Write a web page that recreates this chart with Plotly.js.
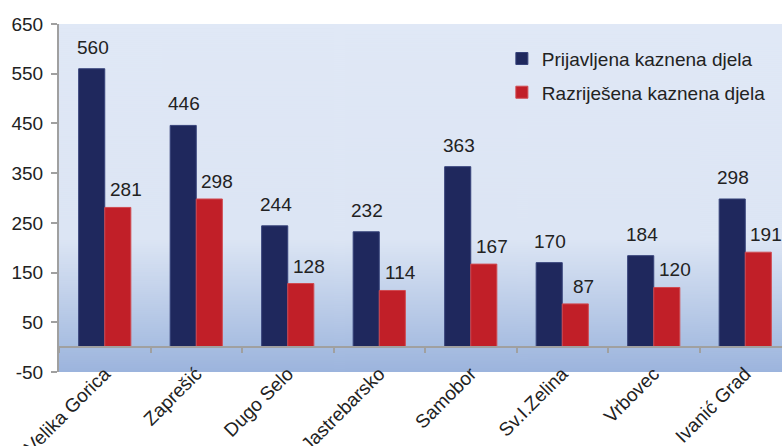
<!DOCTYPE html>
<html>
<head>
<meta charset="utf-8">
<script src="https://cdn.plot.ly/plotly-3.0.1.min.js"></script>
<style>
html,body{margin:0;padding:0;overflow:hidden;background:#fff;width:782px;height:446px;}
#chart{width:791px;height:446px;}
</style>
</head>
<body>
<div id="chart"></div>
<script>
var categories = ["Velika Gorica", "Zaprešić", "Dugo Selo", "Jastrebarsko", "Samobor", "Sv.I.Zelina", "Vrbovec", "Ivanić Grad"];
var seriesNames = ["Prijavljena kaznena djela", "Razriješena kaznena djela"];
var reported = [560, 446, 244, 232, 363, 170, 184, 298];
var solved = [281, 298, 128, 114, 167, 87, 120, 191];
var yTickVals = [-50, 50, 150, 250, 350, 450, 550, 650];
var yTickText = ["-50", "50", "150", "250", "350", "450", "550", "650"];

var navy = "#1f285d";
var red = "#c11f28";
var txt = "#222222";
var fontFam = "Liberation Sans, Arial, sans-serif";
var fs = 19;

// gradient background for plot area
var cv = document.createElement("canvas");
cv.width = 4; cv.height = 348;
var ctx = cv.getContext("2d");
var g = ctx.createLinearGradient(0, 0, 0, 348);
g.addColorStop(0, "#e0e8f6");
g.addColorStop(0.62, "#dce5f4");
g.addColorStop(0.93, "#a7bde1");
g.addColorStop(1, "#9cb4dd");
ctx.fillStyle = g;
ctx.fillRect(0, 0, 4, 348);
var bgURL = cv.toDataURL("image/png");

var traces = [
  {type: "bar", name: seriesNames[0], x: categories, y: reported,
   marker: {color: navy, line: {color: "#36427a", width: 1}},
   legendgroup: "a", hoverinfo: "skip"},
  {type: "bar", name: seriesNames[1], x: categories, y: solved,
   marker: {color: red, line: {color: "#d04a50", width: 1}},
   legendgroup: "b", hoverinfo: "skip"},
  {type: "scatter", mode: "markers", x: categories, y: categories.map(function(){return null;}),
   xaxis: "x2", showlegend: false, hoverinfo: "skip"}
];

var annotations = [];
categories.forEach(function(c, i){
  annotations.push({x: c, y: reported[i], xref: "x", yref: "y", text: String(reported[i]),
    showarrow: false, xshift: -12, yshift: 9, yanchor: "bottom",
    font: {family: fontFam, size: fs, color: txt}});
  annotations.push({x: c, y: solved[i], xref: "x", yref: "y", text: String(solved[i]),
    showarrow: false, xshift: 21, yshift: 5, yanchor: "bottom",
    font: {family: fontFam, size: fs, color: txt}});
});

var layout = {
  width: 791, height: 446,
  margin: {l: 59, r: 0, t: 24, b: 74, pad: 0},
  paper_bgcolor: "#ffffff",
  plot_bgcolor: "rgba(0,0,0,0)",
  font: {family: fontFam, size: fs, color: txt},
  barmode: "group",
  bargap: 0.43,
  bargroupgap: 0,
  showlegend: true,
  legend: {x: 0.605, y: 0.955, xanchor: "left", yanchor: "top",
    bgcolor: "rgba(0,0,0,0)", font: {family: fontFam, size: fs, color: txt},
    traceorder: "grouped", tracegroupgap: 6},
  xaxis: {type: "category", range: [-0.5, 7.5], showline: false, ticks: "",
    showgrid: false, zeroline: false, tickangle: -45, automargin: false,
    ticklabelstandoff: -14, ticklabelshift: 0,
    tickfont: {family: fontFam, size: fs, color: txt}},
  xaxis2: {type: "category", overlaying: "x", anchor: "free", position: 50/700,
    range: [-0.5, 7.5], showline: true, linecolor: "#a0a0a0", linewidth: 2,
    ticks: "outside", ticklen: 5, tickwidth: 2, tickcolor: "#a0a0a0",
    tickson: "boundaries", showticklabels: false, showgrid: false, zeroline: false},
  yaxis: {range: [-50, 650], tickmode: "array", tickvals: yTickVals, ticktext: yTickText,
    showgrid: false, zeroline: false, showline: true, linecolor: "#a0a0a0", linewidth: 2,
    ticks: "outside", ticklen: 6, tickwidth: 2, tickcolor: "#a0a0a0",
    ticklabelstandoff: 4, automargin: false,
    tickfont: {family: fontFam, size: fs, color: txt}},
  images: [{source: bgURL, xref: "paper", yref: "paper", x: 0, y: 1,
    sizex: 1, sizey: 1, xanchor: "left", yanchor: "top", sizing: "stretch", layer: "below"}],
  annotations: annotations
};

Plotly.newPlot("chart", traces, layout, {displayModeBar: false, staticPlot: true});
</script>
</body>
</html>
